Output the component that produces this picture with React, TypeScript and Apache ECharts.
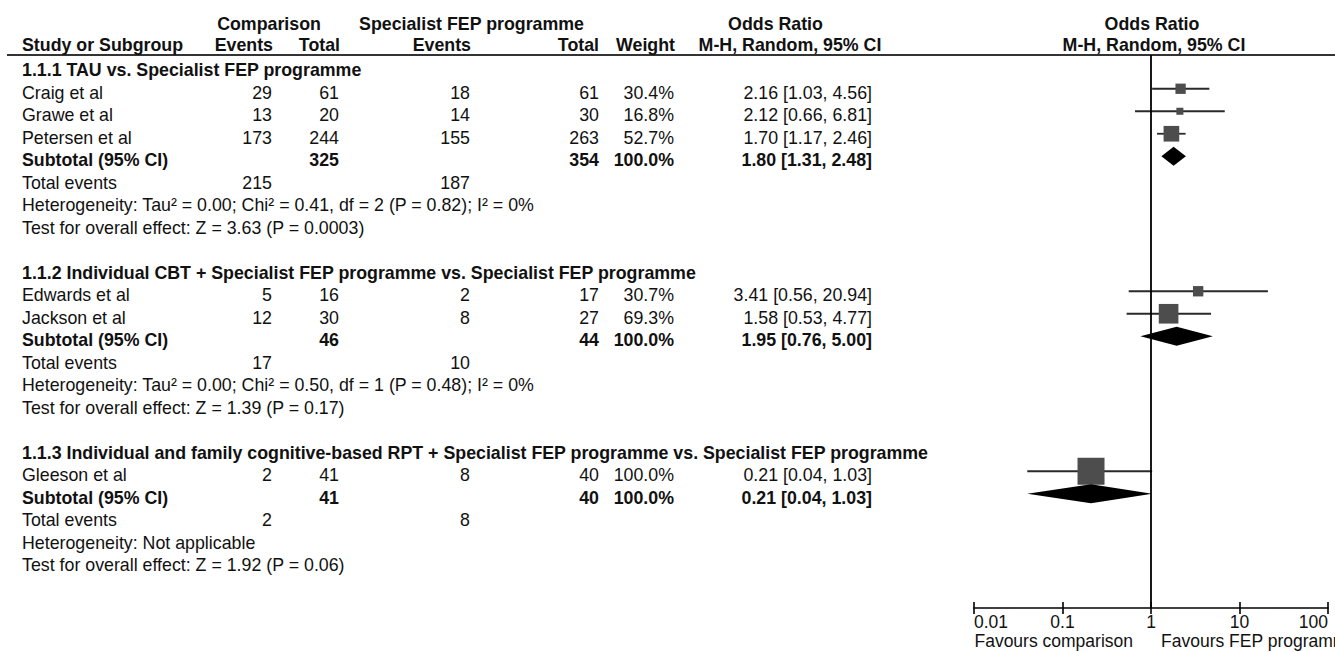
import React, { useEffect, useRef } from "react";
import * as echarts from "echarts";

// ---------------- data ----------------
const groupTitles = [
  "1.1.1 TAU vs. Specialist FEP programme",
  "1.1.2 Individual CBT + Specialist FEP programme vs. Specialist FEP programme",
  "1.1.3 Individual and family cognitive-based RPT + Specialist FEP programme vs. Specialist FEP programme",
];
const studyNames = ["Craig et al", "Grawe et al", "Petersen et al", "Edwards et al", "Jackson et al", "Gleeson et al"];
const studyGroup = [0, 0, 0, 1, 1, 2];
const compEvents = [29, 13, 173, 5, 12, 2];
const compTotal = [61, 20, 244, 16, 30, 41];
const fepEvents = [18, 14, 155, 2, 8, 8];
const fepTotal = [61, 30, 263, 17, 27, 40];
const studyWeight = [30.4, 16.8, 52.7, 30.7, 69.3, 100.0];
const studyOR = [2.16, 2.12, 1.7, 3.41, 1.58, 0.21];
const studyLow = [1.03, 0.66, 1.17, 0.56, 0.53, 0.04];
const studyHigh = [4.56, 6.81, 2.46, 20.94, 4.77, 1.03];

const subCompTotal = [325, 46, 41];
const subFepTotal = [354, 44, 40];
const subWeight = [100.0, 100.0, 100.0];
const subOR = [1.8, 1.95, 0.21];
const subLow = [1.31, 0.76, 0.04];
const subHigh = [2.48, 5.0, 1.03];
const totalCompEvents = [215, 17, 2];
const totalFepEvents = [187, 10, 8];
const heterogeneityTexts = [
  "Heterogeneity: Tau² = 0.00; Chi² = 0.41, df = 2 (P = 0.82); I² = 0%",
  "Heterogeneity: Tau² = 0.00; Chi² = 0.50, df = 1 (P = 0.48); I² = 0%",
  "Heterogeneity: Not applicable",
];
const overallTexts = [
  "Test for overall effect: Z = 3.63 (P = 0.0003)",
  "Test for overall effect: Z = 1.39 (P = 0.17)",
  "Test for overall effect: Z = 1.92 (P = 0.06)",
];
const xTickValues = [0.01, 0.1, 1, 10, 100];
const xTickLabels = ["0.01", "0.1", "1", "10", "100"];
const favourLabels = ["Favours comparison", "Favours FEP programme"];
const headerTop = ["Comparison", "Specialist FEP programme", "Odds Ratio", "Odds Ratio"];
const headerBottom = ["Study or Subgroup", "Events", "Total", "Events", "Total", "Weight", "M-H, Random, 95% CI", "M-H, Random, 95% CI"];

// ---------------- layout ----------------
const W = 1335;
const H = 652;
const FONT = '"Liberation Sans", Arial, Helvetica, sans-serif';
const FS = 17.8;
const TXT = "#111";
const GRID = { left: 974, right: 7, top: 55, bottom: 44 };
const ROW_PX = 22.5;
const Y_MIN = -0.5;
const Y_MAX = (H - GRID.top - GRID.bottom) / ROW_PX - 0.5;
const TEXT_DY = 4;
const COL = { name: 22, compEv: 272, compTot: 339, fepEv: 470, fepTot: 599, weight: 674, ci: 872 };

type Row =
  | { kind: "group"; g: number; k: number }
  | { kind: "study"; i: number; k: number }
  | { kind: "sub"; g: number; k: number }
  | { kind: "events"; g: number; k: number }
  | { kind: "het"; g: number; k: number }
  | { kind: "test"; g: number; k: number };

function buildRows(): Row[] {
  const rows: Row[] = [];
  let k = 0;
  groupTitles.forEach((_, g) => {
    rows.push({ kind: "group", g, k: k++ });
    studyNames.forEach((_, i) => {
      if (studyGroup[i] === g) rows.push({ kind: "study", i, k: k++ });
    });
    rows.push({ kind: "sub", g, k: k++ });
    rows.push({ kind: "events", g, k: k++ });
    rows.push({ kind: "het", g, k: k++ });
    rows.push({ kind: "test", g, k: k++ });
    k++; // blank row
  });
  return rows;
}

const ci = (e: number, l: number, h: number) => `${e.toFixed(2)} [${l.toFixed(2)}, ${h.toFixed(2)}]`;

function txt(text: string, x: number, y: number, align: string, bold = false, size = FS) {
  return {
    type: "text",
    x,
    y,
    silent: true,
    style: {
      text,
      fill: TXT,
      fontSize: size,
      fontFamily: FONT,
      fontWeight: bold ? "bold" : "normal",
      align,
      verticalAlign: "middle",
      textAlign: align,
      textVerticalAlign: "middle",
    },
  };
}

export default function App() {
  const ref = useRef<HTMLDivElement>(null);

  useEffect(() => {
    document.body.style.margin = "0";
    const el = ref.current!;
    const chart = echarts.init(el, null, { renderer: "svg" });
    const rows = buildRows();

    const studyData = rows
      .filter((r) => r.kind === "study")
      .map((r: any) => [studyOR[r.i], studyLow[r.i], studyHigh[r.i], r.k, studyWeight[r.i]]);
    const subData = rows
      .filter((r) => r.kind === "sub")
      .map((r: any) => [subOR[r.g], subLow[r.g], subHigh[r.g], r.k]);

    const axisCommon = {
      type: "log",
      logBase: 10,
      min: 0.01,
      max: 100,
      interval: 1,
      gridIndex: 0,
      position: "bottom",
      offset: 0,
      splitLine: { show: false },
    };

    chart.setOption({
      animation: false,
      grid: { ...GRID, containLabel: false },
      xAxis: [
        {
          ...axisCommon,
          axisLine: { show: true, onZero: false, lineStyle: { color: "#000", width: 1.6 } },
          axisTick: { show: true, inside: false, length: 6, lineStyle: { color: "#000", width: 1.6 } },
          axisLabel: {
            show: true,
            color: TXT,
            fontSize: 17.5,
            fontFamily: FONT,
            margin: 5,
            alignMinLabel: "left",
            alignMaxLabel: "right",
            showMinLabel: true,
            showMaxLabel: true,
            formatter: (v: number) => {
              let best = 0;
              xTickValues.forEach((t, j) => {
                if (Math.abs(Math.log10(t) - Math.log10(v)) < Math.abs(Math.log10(xTickValues[best]) - Math.log10(v))) best = j;
              });
              return xTickLabels[best];
            },
          },
        },
        {
          ...axisCommon,
          axisLine: { show: false, onZero: false },
          axisTick: { show: true, inside: true, length: 6, lineStyle: { color: "#000", width: 1.6 } },
          axisLabel: { show: false },
        },
      ],
      yAxis: { type: "value", inverse: true, min: Y_MIN, max: Y_MAX, show: false, axisLine: { onZero: false } },
      series: [
        {
          type: "custom",
          name: "studies",
          xAxisIndex: 0,
          data: studyData,
          encode: { x: [0, 1, 2], y: 3 },
          markLine: {
            silent: true,
            symbol: ["none", "none"],
            label: { show: false },
            lineStyle: { color: "#000", width: 1.8, type: "solid" },
            data: [{ xAxis: 1 }],
          },
          renderItem: (params: any, api: any) => {
            const k = api.value(3);
            const c = api.coord([api.value(0), k]);
            const lo = api.coord([api.value(1), k]);
            const hi = api.coord([api.value(2), k]);
            const s = 3 + 0.24 * api.value(4);
            return {
              type: "group",
              children: [
                {
                  type: "line",
                  shape: { x1: lo[0], y1: lo[1], x2: hi[0], y2: hi[1] },
                  style: { stroke: "#2a2a2a", lineWidth: 1.8 },
                },
                {
                  type: "rect",
                  shape: { x: c[0] - s / 2, y: c[1] - s / 2, width: s, height: s },
                  style: { fill: "#4d4d4d" },
                },
              ],
            };
          },
        },
        {
          type: "custom",
          name: "subtotals",
          xAxisIndex: 0,
          data: subData,
          encode: { x: [0, 1, 2], y: 3 },
          renderItem: (params: any, api: any) => {
            const k = api.value(3);
            const c = api.coord([api.value(0), k]);
            const lo = api.coord([api.value(1), k]);
            const hi = api.coord([api.value(2), k]);
            const hh = 9.5;
            return {
              type: "polygon",
              shape: { points: [[lo[0], lo[1]], [c[0], c[1] - hh], [hi[0], hi[1]], [c[0], c[1] + hh]] },
              style: { fill: "#000" },
            };
          },
        },
      ],
    });

    const yPix = (k: number) => (chart.convertToPixel({ yAxisIndex: 0 }, k) as number) + TEXT_DY;
    const xOne = chart.convertToPixel({ xAxisIndex: 0 }, 1) as number;

    const g: any[] = [];
    // header rule
    g.push({
      type: "line",
      silent: true,
      shape: { x1: 7, y1: GRID.top, x2: W, y2: GRID.top },
      style: { stroke: "#333", lineWidth: 2 },
    });
    // header texts
    g.push(txt(headerTop[0], 269, 24, "center", true));
    g.push(txt(headerTop[1], 471.5, 24, "center", true));
    g.push(txt(headerTop[2], 775.5, 24, "center", true));
    g.push(txt(headerTop[3], xOne + 1, 24, "center", true));
    g.push(txt(headerBottom[0], COL.name, 45, "left", true));
    g.push(txt(headerBottom[1], COL.compEv + 1, 45, "right", true));
    g.push(txt(headerBottom[2], COL.compTot + 1, 45, "right", true));
    g.push(txt(headerBottom[3], COL.fepEv + 1, 45, "right", true));
    g.push(txt(headerBottom[4], COL.fepTot, 45, "right", true));
    g.push(txt(headerBottom[5], COL.weight + 1, 45, "right", true));
    g.push(txt(headerBottom[6], 790, 45, "center", true));
    g.push(txt(headerBottom[7], xOne + 3, 45, "center", true));

    rows.forEach((r: any) => {
      const y = yPix(r.k);
      if (r.kind === "group") {
        g.push(txt(groupTitles[r.g], COL.name, y, "left", true));
      } else if (r.kind === "study") {
        const i = r.i;
        g.push(txt(studyNames[i], COL.name, y, "left"));
        g.push(txt(String(compEvents[i]), COL.compEv, y, "right"));
        g.push(txt(String(compTotal[i]), COL.compTot, y, "right"));
        g.push(txt(String(fepEvents[i]), COL.fepEv, y, "right"));
        g.push(txt(String(fepTotal[i]), COL.fepTot, y, "right"));
        g.push(txt(`${studyWeight[i].toFixed(1)}%`, COL.weight, y, "right"));
        g.push(txt(ci(studyOR[i], studyLow[i], studyHigh[i]), COL.ci, y, "right"));
      } else if (r.kind === "sub") {
        const j = r.g;
        g.push(txt("Subtotal (95% CI)", COL.name, y, "left", true));
        g.push(txt(String(subCompTotal[j]), COL.compTot, y, "right", true));
        g.push(txt(String(subFepTotal[j]), COL.fepTot, y, "right", true));
        g.push(txt(`${subWeight[j].toFixed(1)}%`, COL.weight, y, "right", true));
        g.push(txt(ci(subOR[j], subLow[j], subHigh[j]), COL.ci, y, "right", true));
      } else if (r.kind === "events") {
        g.push(txt("Total events", COL.name, y, "left"));
        g.push(txt(String(totalCompEvents[r.g]), COL.compEv, y, "right"));
        g.push(txt(String(totalFepEvents[r.g]), COL.fepEv, y, "right"));
      } else if (r.kind === "het") {
        g.push(txt(heterogeneityTexts[r.g], COL.name, y, "left"));
      } else if (r.kind === "test") {
        g.push(txt(overallTexts[r.g], COL.name, y, "left"));
      }
    });

    // favours labels
    g.push(txt(favourLabels[0], xOne - 18, 641, "right", false, 17.5));
    g.push(txt(favourLabels[1], xOne + 10, 641, "left", false, 17.5));

    chart.setOption({ graphic: { elements: g } });

    return () => chart.dispose();
  }, []);

  return (
    <div
      ref={ref}
      style={{ position: "absolute", left: 0, top: 0, width: W, height: H, background: "#fff" }}
    />
  );
}
